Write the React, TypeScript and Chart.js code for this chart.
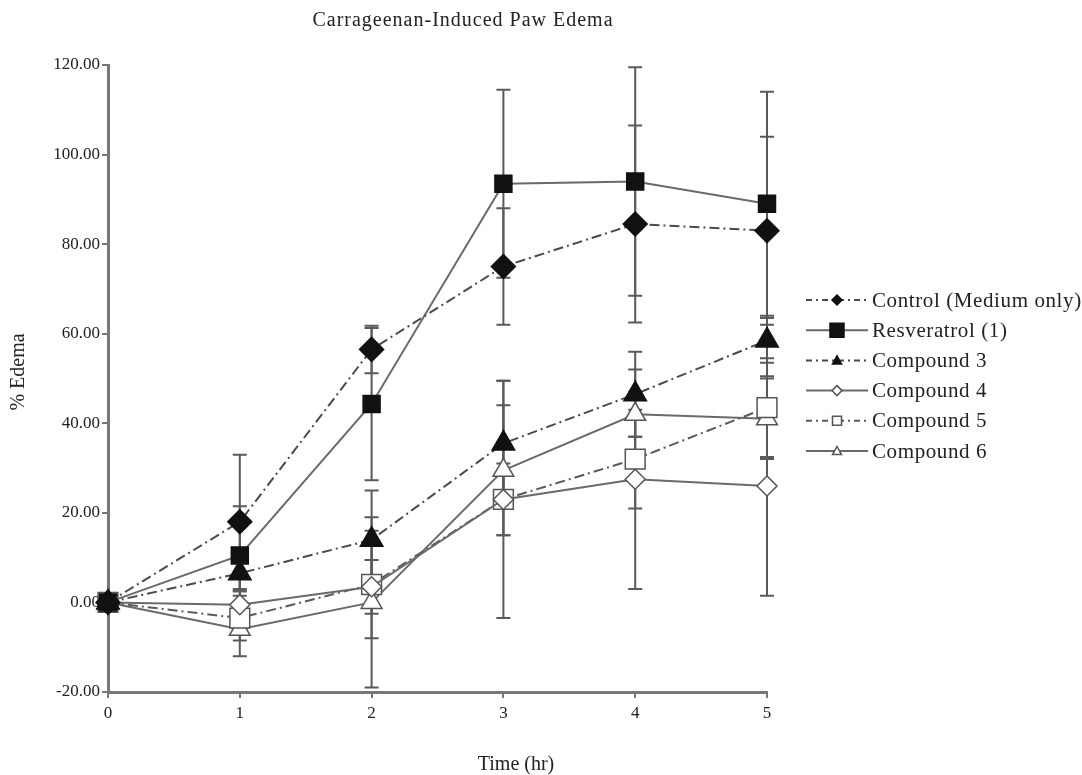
import React, { useEffect, useRef } from "react";
import { Chart, registerables } from "chart.js";

Chart.register(...registerables);

const titleText = "Carrageenan-Induced Paw Edema";
const xAxisTitle = "Time (hr)";
const yAxisTitle = "% Edema";

const timeHours = [0, 1, 2, 3, 4, 5];
const seriesNames = [
  "Control (Medium only)",
  "Resveratrol (1)",
  "Compound 3",
  "Compound 4",
  "Compound 5",
  "Compound 6",
];

const controlMean = [0, 18, 56.5, 75, 84.5, 83];
const controlErr = [0, 15, 5.3, 13, 22, 21];
const resveratrolMean = [0, 10.5, 44.3, 93.5, 94, 89];
const resveratrolErr = [0, 11, 17, 21, 25.5, 25];
const compound3Mean = [0, 6.5, 14, 35.5, 46.5, 58.5];
const compound3Err = [0, 4, 11, 14, 9.5, 5];
const compound4Mean = [0, -0.5, 3.5, 23, 27.5, 26];
const compound4Err = [0, 3, 6, 8, 24.5, 24.5];
const compound5Mean = [0, -3.5, 4, 23, 32, 43.5];
const compound5Err = [0, 5, 12, 26.5, 11, 11];
const compound6Mean = [0, -6, 0, 29.5, 42, 41];
const compound6Err = [0, 6, 19, 14.5, 5, 9];

const yMin = -20;
const yMax = 120;
const yStep = 20;

const means = [controlMean, resveratrolMean, compound3Mean, compound4Mean, compound5Mean, compound6Mean];
const errs = [controlErr, resveratrolErr, compound3Err, compound4Err, compound5Err, compound6Err];

const FONT = "'Liberation Serif', 'Times New Roman', serif";
const DASHDOT = [10, 4, 2, 4];

type Style = {
  pointStyle: string;
  filled: boolean;
  dashed: boolean;
  radius: number;
  lineColor: string;
};

const styles: Style[] = [
  { pointStyle: "rectRot", filled: true, dashed: true, radius: 12, lineColor: "#4a4a4a" },
  { pointStyle: "rect", filled: true, dashed: false, radius: 12, lineColor: "#6a6a6a" },
  { pointStyle: "triangle", filled: true, dashed: true, radius: 13, lineColor: "#4a4a4a" },
  { pointStyle: "rectRot", filled: false, dashed: false, radius: 10, lineColor: "#6a6a6a" },
  { pointStyle: "rect", filled: false, dashed: true, radius: 14, lineColor: "#5a5a5a" },
  { pointStyle: "triangle", filled: false, dashed: false, radius: 12, lineColor: "#6a6a6a" },
];

const errorBarPlugin = {
  id: "errorBars",
  beforeDatasetsDraw(chart: any) {
    const ctx = chart.ctx;
    const ys = chart.scales.y;
    ctx.save();
    ctx.strokeStyle = "#5a5a5a";
    ctx.lineWidth = 2;
    ctx.setLineDash([]);
    means.forEach((m, i) => {
      const meta = chart.getDatasetMeta(i);
      m.forEach((v, j) => {
        const e = errs[i][j];
        if (!e) return;
        const x = meta.data[j].x;
        const yt = ys.getPixelForValue(v + e);
        const yb = ys.getPixelForValue(v - e);
        ctx.beginPath();
        ctx.moveTo(x, yt);
        ctx.lineTo(x, yb);
        ctx.moveTo(x - 7, yt);
        ctx.lineTo(x + 7, yt);
        ctx.moveTo(x - 7, yb);
        ctx.lineTo(x + 7, yb);
        ctx.stroke();
      });
    });
    ctx.restore();
  },
};

function drawMarker(ctx: CanvasRenderingContext2D, style: string, x: number, y: number, r: number, filled: boolean) {
  ctx.beginPath();
  if (style === "rectRot") {
    ctx.moveTo(x, y - r);
    ctx.lineTo(x + r, y);
    ctx.lineTo(x, y + r);
    ctx.lineTo(x - r, y);
    ctx.closePath();
  } else if (style === "rect") {
    ctx.rect(x - r, y - r, 2 * r, 2 * r);
  } else {
    ctx.moveTo(x, y - r);
    ctx.lineTo(x + r, y + r * 0.8);
    ctx.lineTo(x - r, y + r * 0.8);
    ctx.closePath();
  }
  ctx.fillStyle = filled ? "#111" : "#fff";
  ctx.fill();
  ctx.lineWidth = 1.5;
  ctx.strokeStyle = filled ? "#111" : "#555";
  ctx.stroke();
}

const decorPlugin = {
  id: "decor",
  afterDraw(chart: any) {
    const ctx = chart.ctx;
    ctx.save();
    ctx.fillStyle = "#222";
    ctx.textBaseline = "middle";
    ctx.textAlign = "center";
    ctx.font = `20px ${FONT}`;
    (ctx as any).letterSpacing = "1px";
    ctx.fillText(titleText, 463, 21);
    (ctx as any).letterSpacing = "0px";
    ctx.fillText(xAxisTitle, 516, 765);
    ctx.save();
    ctx.translate(19, 372);
    ctx.rotate(-Math.PI / 2);
    ctx.fillText(yAxisTitle, 0, 0);
    ctx.restore();

    // legend
    ctx.textAlign = "left";
    ctx.font = `21px ${FONT}`;
    (ctx as any).letterSpacing = "0.6px";
    seriesNames.forEach((name, i) => {
      const s = styles[i];
      const y = 300 + i * 30.2;
      ctx.strokeStyle = s.lineColor;
      ctx.lineWidth = 2;
      ctx.setLineDash(s.dashed ? [6, 4, 2, 4] : []);
      ctx.beginPath();
      ctx.moveTo(806, y);
      ctx.lineTo(868, y);
      ctx.stroke();
      ctx.setLineDash([]);
      drawMarker(ctx, s.pointStyle, 837, y, s.pointStyle === "rectRot" ? 5 : s.filled && s.pointStyle === "rect" ? 7 : 4.5, s.filled);
      ctx.fillStyle = "#222";
      ctx.fillText(name, 872, y + 1);
    });
    ctx.restore();
  },
};

export default function App() {
  const ref = useRef<HTMLCanvasElement | null>(null);
  useEffect(() => {
    if (!ref.current) return;
    const datasets = seriesNames.map((name, i) => {
      const s = styles[i];
      return {
        label: name,
        data: timeHours.map((t, j) => ({ x: t, y: means[i][j] })),
        borderColor: s.lineColor,
        borderWidth: 2,
        borderDash: s.dashed ? DASHDOT : [],
        pointStyle: s.pointStyle,
        pointRadius: s.radius,
        pointBackgroundColor: s.filled ? "#111" : "#fff",
        pointBorderColor: s.filled ? "#111" : "#555",
        pointBorderWidth: 1.5,
        fill: false,
        tension: 0,
        clip: false,
      };
    });
    const chart = new Chart(ref.current, {
      type: "line",
      data: { datasets },
      options: {
        animation: false,
        responsive: false,
        layout: { padding: { top: 65, right: 315, left: 0, bottom: 43 } },
        plugins: {
          legend: { display: false },
          tooltip: { enabled: false },
          title: { display: false },
        },
        scales: {
          x: {
            type: "linear",
            min: 0,
            max: 5,
            afterFit: (s: any) => {
              s.height = 40;
            },
            ticks: {
              stepSize: 1,
              color: "#222",
              font: { family: FONT, size: 17 },
              padding: 5,
              callback: (v: any) => String(v),
            },
            grid: { drawOnChartArea: false, drawTicks: true, tickLength: 6, color: "#777", lineWidth: 2 },
            border: { display: true, color: "#777", width: 3 },
          },
          y: {
            min: yMin,
            max: yMax,
            afterFit: (s: any) => {
              s.width = 108;
            },
            ticks: {
              stepSize: yStep,
              color: "#222",
              font: { family: FONT, size: 17 },
              padding: 2,
              callback: (v: any) => Number(v).toFixed(2),
            },
            grid: { drawOnChartArea: false, drawTicks: true, tickLength: 6, color: "#777", lineWidth: 2 },
            border: { display: true, color: "#777", width: 3 },
          },
        },
      },
      plugins: [errorBarPlugin, decorPlugin],
    } as any);
    return () => chart.destroy();
  }, []);
  return (
    <div style={{ position: "absolute", left: 0, top: 0, width: 1082, height: 775, background: "#fff" }}>
      <canvas ref={ref} width={1082} height={775} style={{ width: 1082, height: 775 }} />
    </div>
  );
}
